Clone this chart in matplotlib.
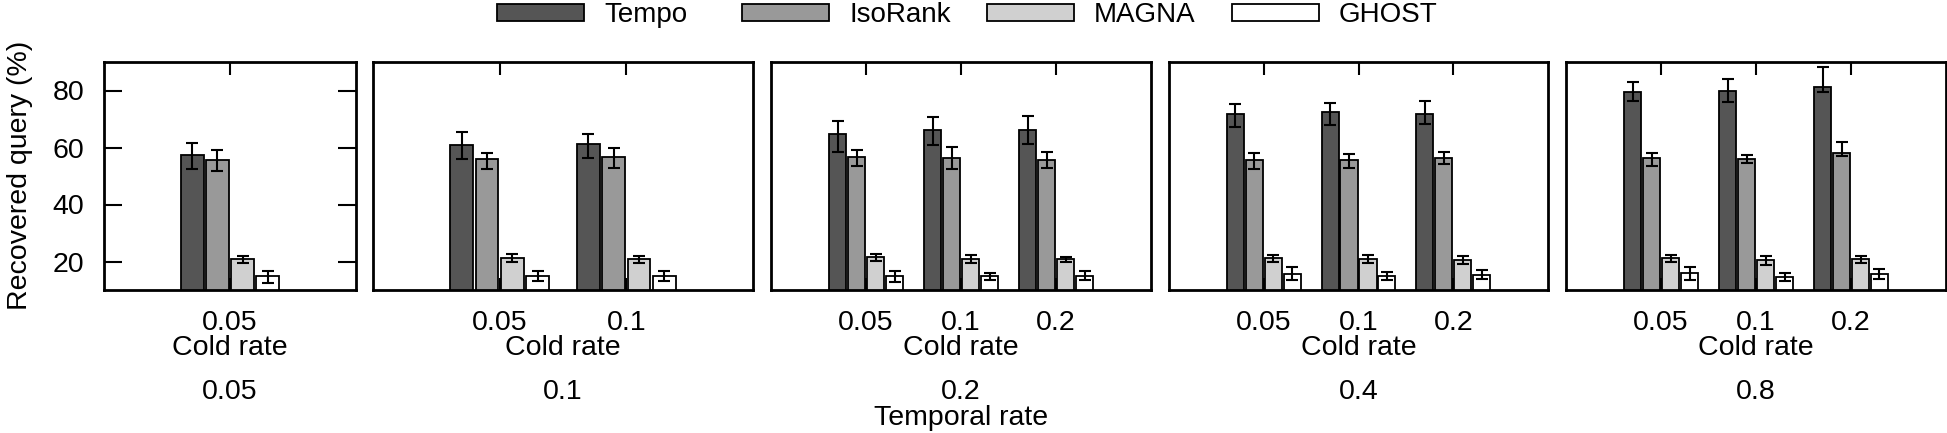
#!/usr/bin/env python3
import numpy as np
import matplotlib
matplotlib.use('Agg')
import matplotlib.pyplot as plt
import matplotlib.transforms as mtransforms
from matplotlib.patches import Rectangle

plt.rcParams['font.family'] = ['Liberation Sans', 'DejaVu Sans']

methods = ['Tempo', 'IsoRank', 'MAGNA', 'GHOST']
colors = ['#555555', '#999999', '#d0d0d0', '#ffffff']

temporal_rates = ['0.05', '0.1', '0.2', '0.4', '0.8']
cold_rates = [['0.05'], ['0.05', '0.1'], ['0.05', '0.1', '0.2'],
              ['0.05', '0.1', '0.2'], ['0.05', '0.1', '0.2']]

# one entry per (temporal rate, cold rate) group, in panel order
tempo = [57.3, 60.8, 61.2, 64.6, 66.0, 66.1, 71.6, 72.5, 71.6, 79.6, 79.9, 81.1]
tempo_hi = [61.7, 65.6, 64.7, 69.4, 70.8, 71.0, 75.1, 75.7, 76.2, 82.9, 84.0, 88.1]
tempo_lo = [52.5, 55.9, 56.3, 58.4, 60.9, 61.2, 67.3, 67.8, 68.2, 76.3, 76.1, 79.6]

isorank = [55.5, 56.0, 56.6, 56.8, 56.3, 55.6, 55.6, 55.7, 56.3, 56.2, 56.0, 58.0]
isorank_hi = [59.1, 58.2, 59.7, 59.1, 60.1, 58.5, 58.0, 57.7, 58.3, 58.2, 57.5, 61.9]
isorank_lo = [51.8, 52.6, 52.9, 53.4, 52.5, 52.9, 52.6, 52.9, 54.1, 53.5, 54.4, 57.1]

magna = [20.8, 21.1, 20.8, 21.5, 20.9, 20.8, 21.1, 21.0, 20.4, 21.1, 20.5, 20.8]
magna_hi = [22.0, 22.5, 22.0, 22.6, 22.4, 21.6, 22.4, 22.4, 21.8, 22.4, 21.9, 22.0]
magna_lo = [19.5, 19.7, 19.5, 20.1, 19.6, 19.8, 19.8, 19.4, 19.1, 19.8, 18.9, 19.4]

ghost = [14.8, 14.9, 14.9, 15.0, 14.9, 14.9, 15.7, 14.9, 15.4, 15.9, 14.6, 15.5]
ghost_hi = [16.8, 16.8, 16.6, 16.8, 16.1, 16.6, 18.2, 16.3, 16.9, 18.2, 16.1, 17.3]
ghost_lo = [12.5, 13.3, 13.3, 12.9, 13.5, 13.5, 13.5, 13.5, 13.8, 13.5, 13.3, 13.8]

series = [(tempo, tempo_lo, tempo_hi), (isorank, isorank_lo, isorank_hi),
          (magna, magna_lo, magna_hi), (ghost, ghost_lo, ghost_hi)]

W, H = 1947, 433
fig = plt.figure(figsize=(W / 100, H / 100), dpi=100)

# panel pixel extents (left, right), shared top/bottom
panels_px = [(104, 356), (373, 753), (771, 1151), (1169, 1548), (1566, 1946)]
top_px, bot_px = 62, 290
FS = 20.5

offsets = [-0.3, -0.1, 0.1, 0.3]
bar_w = 0.18


def fy(py):
    return 1 - py / H


k = 0
for p, (l, r) in enumerate(panels_px):
    ax = fig.add_axes([l / W, fy(bot_px), (r - l) / W, (bot_px - top_px) / H])
    n = len(cold_rates[p])
    x = np.arange(n)
    for j, (vals, lo, hi) in enumerate(series):
        v = np.array(vals[k:k + n])
        err = np.array([v - np.array(lo[k:k + n]), np.array(hi[k:k + n]) - v])
        ax.bar(x + offsets[j], v, bar_w, bottom=0, color=colors[j],
               edgecolor='black', linewidth=1.3, zorder=2)
        ax.errorbar(x + offsets[j], v, yerr=err, fmt='none', ecolor='black',
                    elinewidth=1.5, capsize=4, capthick=1.5, zorder=3)
    k += n

    ax.set_xlim(-1, n if n > 1 else 1)
    ax.set_ylim(10, 90)
    ax.set_xticks(x)
    ax.set_xticklabels([])
    ax.tick_params(axis='x', direction='in', length=9, width=1.5, top=True,
                   bottom=True)
    if p == 0:
        ax.set_yticks([20, 40, 60, 80])
        ax.tick_params(axis='y', direction='in', length=13, width=1.5,
                       right=True, labelsize=FS, pad=14)
    else:
        ax.set_yticks([])
    for s in ax.spines.values():
        s.set_linewidth(2)
        s.set_zorder(4)

    # cold-rate labels under each group
    trans = mtransforms.blended_transform_factory(ax.transData, fig.transFigure)
    for xi, lab in zip(x, cold_rates[p]):
        ax.text(xi, fy(330), lab, transform=trans, ha='center', va='baseline',
                fontsize=FS)

    cx = (l + r) / 2 / W
    fig.text(cx, fy(355), 'Cold rate', ha='center', va='baseline', fontsize=FS)
    fig.text(cx, fy(399), temporal_rates[p], ha='center', va='baseline', fontsize=FS)

fig.text(961 / W, fy(425), 'Temporal rate', ha='center', va='baseline', fontsize=FS)
fig.text(27 / W, fy(175), 'Recovered query (%)', ha='center', va='baseline',
         rotation=90, rotation_mode='anchor', fontsize=FS)

# gnuplot-style key: fixed-width columns across the top
for i, (name, c) in enumerate(zip(methods, colors)):
    x0 = 497 + 245 * i
    fig.patches.append(Rectangle((x0 / W, fy(21)), 87 / W, 17 / H,
                                 transform=fig.transFigure, facecolor=c,
                                 edgecolor='black', linewidth=1.3))
    fig.text((x0 + 107) / W, fy(22.5), name, ha='left', va='baseline', fontsize=20)

fig.savefig('out.png', dpi=100)
